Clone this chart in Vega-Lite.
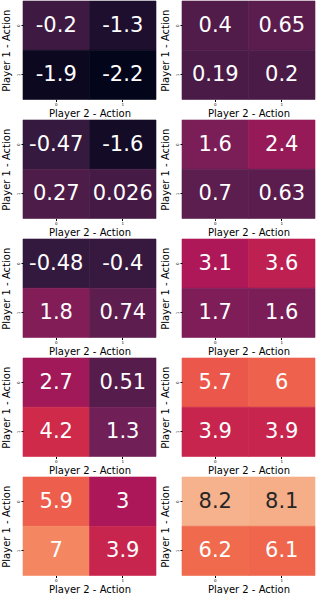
{
  "$schema": "https://vega.github.io/schema/vega-lite/v6.json",
  "padding": {"left": 1, "top": 0, "right": 0, "bottom": 0},
  "background": "white",
  "data": {"values": [
    {"panel": 1, "p1": 0, "p2": 0, "value": -0.2},
    {"panel": 1, "p1": 0, "p2": 1, "value": -1.3},
    {"panel": 1, "p1": 1, "p2": 0, "value": -1.9},
    {"panel": 1, "p1": 1, "p2": 1, "value": -2.2},
    {"panel": 2, "p1": 0, "p2": 0, "value": 0.4},
    {"panel": 2, "p1": 0, "p2": 1, "value": 0.65},
    {"panel": 2, "p1": 1, "p2": 0, "value": 0.19},
    {"panel": 2, "p1": 1, "p2": 1, "value": 0.2},
    {"panel": 3, "p1": 0, "p2": 0, "value": -0.47},
    {"panel": 3, "p1": 0, "p2": 1, "value": -1.6},
    {"panel": 3, "p1": 1, "p2": 0, "value": 0.27},
    {"panel": 3, "p1": 1, "p2": 1, "value": 0.026},
    {"panel": 4, "p1": 0, "p2": 0, "value": 1.6},
    {"panel": 4, "p1": 0, "p2": 1, "value": 2.4},
    {"panel": 4, "p1": 1, "p2": 0, "value": 0.7},
    {"panel": 4, "p1": 1, "p2": 1, "value": 0.63},
    {"panel": 5, "p1": 0, "p2": 0, "value": -0.48},
    {"panel": 5, "p1": 0, "p2": 1, "value": -0.4},
    {"panel": 5, "p1": 1, "p2": 0, "value": 1.8},
    {"panel": 5, "p1": 1, "p2": 1, "value": 0.74},
    {"panel": 6, "p1": 0, "p2": 0, "value": 3.1},
    {"panel": 6, "p1": 0, "p2": 1, "value": 3.6},
    {"panel": 6, "p1": 1, "p2": 0, "value": 1.7},
    {"panel": 6, "p1": 1, "p2": 1, "value": 1.6},
    {"panel": 7, "p1": 0, "p2": 0, "value": 2.7},
    {"panel": 7, "p1": 0, "p2": 1, "value": 0.51},
    {"panel": 7, "p1": 1, "p2": 0, "value": 4.2},
    {"panel": 7, "p1": 1, "p2": 1, "value": 1.3},
    {"panel": 8, "p1": 0, "p2": 0, "value": 5.7},
    {"panel": 8, "p1": 0, "p2": 1, "value": 6},
    {"panel": 8, "p1": 1, "p2": 0, "value": 3.9},
    {"panel": 8, "p1": 1, "p2": 1, "value": 3.9},
    {"panel": 9, "p1": 0, "p2": 0, "value": 5.9},
    {"panel": 9, "p1": 0, "p2": 1, "value": 3},
    {"panel": 9, "p1": 1, "p2": 0, "value": 7},
    {"panel": 9, "p1": 1, "p2": 1, "value": 3.9},
    {"panel": 10, "p1": 0, "p2": 0, "value": 8.2},
    {"panel": 10, "p1": 0, "p2": 1, "value": 8.1},
    {"panel": 10, "p1": 1, "p2": 0, "value": 6.2},
    {"panel": 10, "p1": 1, "p2": 1, "value": 6.1}
  ]},
  "columns": 2,
  "spacing": {"row": 0, "column": 3},
  "concat": [
    {"transform": [{"filter": "datum.panel == 1"}], "width": 133, "height": 98.5,
     "encoding": {"x": {"field": "p2", "type": "ordinal", "axis": {"title": "Player 2 - Action"}}, "y": {"field": "p1", "type": "ordinal", "axis": {"title": "Player 1 - Action"}}},
     "layer": [
       {"mark": "rect", "encoding": {"color": {"field": "value", "type": "quantitative", "legend": null, "scale": {"domain": [-2.2, -0.457, 1.286, 3.029, 4.771, 6.514, 8.257, 10.0], "range": ["#03051a", "#35193e", "#701f57", "#ad1759", "#e13342", "#f37651", "#f6b48f", "#faebdd"], "interpolate": "rgb"}}, "stroke": {"field": "value", "type": "quantitative", "legend": null, "scale": {"domain": [-2.2, -0.457, 1.286, 3.029, 4.771, 6.514, 8.257, 10.0], "range": ["#03051a", "#35193e", "#701f57", "#ad1759", "#e13342", "#f37651", "#f6b48f", "#faebdd"], "interpolate": "rgb"}}}},
       {"mark": "text", "encoding": {"text": {"field": "value", "type": "quantitative", "format": ".2~g"}, "color": {"condition": {"test": "datum.value > 7.5", "value": "#262626"}, "value": "#ffffff"}}}
     ]},
    {"transform": [{"filter": "datum.panel == 2"}], "width": 133, "height": 98.5,
     "encoding": {"x": {"field": "p2", "type": "ordinal", "axis": {"title": "Player 2 - Action"}}, "y": {"field": "p1", "type": "ordinal", "axis": {"title": "Player 1 - Action"}}},
     "layer": [
       {"mark": "rect", "encoding": {"color": {"field": "value", "type": "quantitative", "legend": null, "scale": {"domain": [-2.2, -0.457, 1.286, 3.029, 4.771, 6.514, 8.257, 10.0], "range": ["#03051a", "#35193e", "#701f57", "#ad1759", "#e13342", "#f37651", "#f6b48f", "#faebdd"], "interpolate": "rgb"}}, "stroke": {"field": "value", "type": "quantitative", "legend": null, "scale": {"domain": [-2.2, -0.457, 1.286, 3.029, 4.771, 6.514, 8.257, 10.0], "range": ["#03051a", "#35193e", "#701f57", "#ad1759", "#e13342", "#f37651", "#f6b48f", "#faebdd"], "interpolate": "rgb"}}}},
       {"mark": "text", "encoding": {"text": {"field": "value", "type": "quantitative", "format": ".2~g"}, "color": {"condition": {"test": "datum.value > 7.5", "value": "#262626"}, "value": "#ffffff"}}}
     ]},
    {"transform": [{"filter": "datum.panel == 3"}], "width": 133, "height": 98.5,
     "encoding": {"x": {"field": "p2", "type": "ordinal", "axis": {"title": "Player 2 - Action"}}, "y": {"field": "p1", "type": "ordinal", "axis": {"title": "Player 1 - Action"}}},
     "layer": [
       {"mark": "rect", "encoding": {"color": {"field": "value", "type": "quantitative", "legend": null, "scale": {"domain": [-2.2, -0.457, 1.286, 3.029, 4.771, 6.514, 8.257, 10.0], "range": ["#03051a", "#35193e", "#701f57", "#ad1759", "#e13342", "#f37651", "#f6b48f", "#faebdd"], "interpolate": "rgb"}}, "stroke": {"field": "value", "type": "quantitative", "legend": null, "scale": {"domain": [-2.2, -0.457, 1.286, 3.029, 4.771, 6.514, 8.257, 10.0], "range": ["#03051a", "#35193e", "#701f57", "#ad1759", "#e13342", "#f37651", "#f6b48f", "#faebdd"], "interpolate": "rgb"}}}},
       {"mark": "text", "encoding": {"text": {"field": "value", "type": "quantitative", "format": ".2~g"}, "color": {"condition": {"test": "datum.value > 7.5", "value": "#262626"}, "value": "#ffffff"}}}
     ]},
    {"transform": [{"filter": "datum.panel == 4"}], "width": 133, "height": 98.5,
     "encoding": {"x": {"field": "p2", "type": "ordinal", "axis": {"title": "Player 2 - Action"}}, "y": {"field": "p1", "type": "ordinal", "axis": {"title": "Player 1 - Action"}}},
     "layer": [
       {"mark": "rect", "encoding": {"color": {"field": "value", "type": "quantitative", "legend": null, "scale": {"domain": [-2.2, -0.457, 1.286, 3.029, 4.771, 6.514, 8.257, 10.0], "range": ["#03051a", "#35193e", "#701f57", "#ad1759", "#e13342", "#f37651", "#f6b48f", "#faebdd"], "interpolate": "rgb"}}, "stroke": {"field": "value", "type": "quantitative", "legend": null, "scale": {"domain": [-2.2, -0.457, 1.286, 3.029, 4.771, 6.514, 8.257, 10.0], "range": ["#03051a", "#35193e", "#701f57", "#ad1759", "#e13342", "#f37651", "#f6b48f", "#faebdd"], "interpolate": "rgb"}}}},
       {"mark": "text", "encoding": {"text": {"field": "value", "type": "quantitative", "format": ".2~g"}, "color": {"condition": {"test": "datum.value > 7.5", "value": "#262626"}, "value": "#ffffff"}}}
     ]},
    {"transform": [{"filter": "datum.panel == 5"}], "width": 133, "height": 98.5,
     "encoding": {"x": {"field": "p2", "type": "ordinal", "axis": {"title": "Player 2 - Action"}}, "y": {"field": "p1", "type": "ordinal", "axis": {"title": "Player 1 - Action"}}},
     "layer": [
       {"mark": "rect", "encoding": {"color": {"field": "value", "type": "quantitative", "legend": null, "scale": {"domain": [-2.2, -0.457, 1.286, 3.029, 4.771, 6.514, 8.257, 10.0], "range": ["#03051a", "#35193e", "#701f57", "#ad1759", "#e13342", "#f37651", "#f6b48f", "#faebdd"], "interpolate": "rgb"}}, "stroke": {"field": "value", "type": "quantitative", "legend": null, "scale": {"domain": [-2.2, -0.457, 1.286, 3.029, 4.771, 6.514, 8.257, 10.0], "range": ["#03051a", "#35193e", "#701f57", "#ad1759", "#e13342", "#f37651", "#f6b48f", "#faebdd"], "interpolate": "rgb"}}}},
       {"mark": "text", "encoding": {"text": {"field": "value", "type": "quantitative", "format": ".2~g"}, "color": {"condition": {"test": "datum.value > 7.5", "value": "#262626"}, "value": "#ffffff"}}}
     ]},
    {"transform": [{"filter": "datum.panel == 6"}], "width": 133, "height": 98.5,
     "encoding": {"x": {"field": "p2", "type": "ordinal", "axis": {"title": "Player 2 - Action"}}, "y": {"field": "p1", "type": "ordinal", "axis": {"title": "Player 1 - Action"}}},
     "layer": [
       {"mark": "rect", "encoding": {"color": {"field": "value", "type": "quantitative", "legend": null, "scale": {"domain": [-2.2, -0.457, 1.286, 3.029, 4.771, 6.514, 8.257, 10.0], "range": ["#03051a", "#35193e", "#701f57", "#ad1759", "#e13342", "#f37651", "#f6b48f", "#faebdd"], "interpolate": "rgb"}}, "stroke": {"field": "value", "type": "quantitative", "legend": null, "scale": {"domain": [-2.2, -0.457, 1.286, 3.029, 4.771, 6.514, 8.257, 10.0], "range": ["#03051a", "#35193e", "#701f57", "#ad1759", "#e13342", "#f37651", "#f6b48f", "#faebdd"], "interpolate": "rgb"}}}},
       {"mark": "text", "encoding": {"text": {"field": "value", "type": "quantitative", "format": ".2~g"}, "color": {"condition": {"test": "datum.value > 7.5", "value": "#262626"}, "value": "#ffffff"}}}
     ]},
    {"transform": [{"filter": "datum.panel == 7"}], "width": 133, "height": 98.5,
     "encoding": {"x": {"field": "p2", "type": "ordinal", "axis": {"title": "Player 2 - Action"}}, "y": {"field": "p1", "type": "ordinal", "axis": {"title": "Player 1 - Action"}}},
     "layer": [
       {"mark": "rect", "encoding": {"color": {"field": "value", "type": "quantitative", "legend": null, "scale": {"domain": [-2.2, -0.457, 1.286, 3.029, 4.771, 6.514, 8.257, 10.0], "range": ["#03051a", "#35193e", "#701f57", "#ad1759", "#e13342", "#f37651", "#f6b48f", "#faebdd"], "interpolate": "rgb"}}, "stroke": {"field": "value", "type": "quantitative", "legend": null, "scale": {"domain": [-2.2, -0.457, 1.286, 3.029, 4.771, 6.514, 8.257, 10.0], "range": ["#03051a", "#35193e", "#701f57", "#ad1759", "#e13342", "#f37651", "#f6b48f", "#faebdd"], "interpolate": "rgb"}}}},
       {"mark": "text", "encoding": {"text": {"field": "value", "type": "quantitative", "format": ".2~g"}, "color": {"condition": {"test": "datum.value > 7.5", "value": "#262626"}, "value": "#ffffff"}}}
     ]},
    {"transform": [{"filter": "datum.panel == 8"}], "width": 133, "height": 98.5,
     "encoding": {"x": {"field": "p2", "type": "ordinal", "axis": {"title": "Player 2 - Action"}}, "y": {"field": "p1", "type": "ordinal", "axis": {"title": "Player 1 - Action"}}},
     "layer": [
       {"mark": "rect", "encoding": {"color": {"field": "value", "type": "quantitative", "legend": null, "scale": {"domain": [-2.2, -0.457, 1.286, 3.029, 4.771, 6.514, 8.257, 10.0], "range": ["#03051a", "#35193e", "#701f57", "#ad1759", "#e13342", "#f37651", "#f6b48f", "#faebdd"], "interpolate": "rgb"}}, "stroke": {"field": "value", "type": "quantitative", "legend": null, "scale": {"domain": [-2.2, -0.457, 1.286, 3.029, 4.771, 6.514, 8.257, 10.0], "range": ["#03051a", "#35193e", "#701f57", "#ad1759", "#e13342", "#f37651", "#f6b48f", "#faebdd"], "interpolate": "rgb"}}}},
       {"mark": "text", "encoding": {"text": {"field": "value", "type": "quantitative", "format": ".2~g"}, "color": {"condition": {"test": "datum.value > 7.5", "value": "#262626"}, "value": "#ffffff"}}}
     ]},
    {"transform": [{"filter": "datum.panel == 9"}], "width": 133, "height": 98.5,
     "encoding": {"x": {"field": "p2", "type": "ordinal", "axis": {"title": "Player 2 - Action"}}, "y": {"field": "p1", "type": "ordinal", "axis": {"title": "Player 1 - Action"}}},
     "layer": [
       {"mark": "rect", "encoding": {"color": {"field": "value", "type": "quantitative", "legend": null, "scale": {"domain": [-2.2, -0.457, 1.286, 3.029, 4.771, 6.514, 8.257, 10.0], "range": ["#03051a", "#35193e", "#701f57", "#ad1759", "#e13342", "#f37651", "#f6b48f", "#faebdd"], "interpolate": "rgb"}}, "stroke": {"field": "value", "type": "quantitative", "legend": null, "scale": {"domain": [-2.2, -0.457, 1.286, 3.029, 4.771, 6.514, 8.257, 10.0], "range": ["#03051a", "#35193e", "#701f57", "#ad1759", "#e13342", "#f37651", "#f6b48f", "#faebdd"], "interpolate": "rgb"}}}},
       {"mark": "text", "encoding": {"text": {"field": "value", "type": "quantitative", "format": ".2~g"}, "color": {"condition": {"test": "datum.value > 7.5", "value": "#262626"}, "value": "#ffffff"}}}
     ]},
    {"transform": [{"filter": "datum.panel == 10"}], "width": 133, "height": 98.5,
     "encoding": {"x": {"field": "p2", "type": "ordinal", "axis": {"title": "Player 2 - Action"}}, "y": {"field": "p1", "type": "ordinal", "axis": {"title": "Player 1 - Action"}}},
     "layer": [
       {"mark": "rect", "encoding": {"color": {"field": "value", "type": "quantitative", "legend": null, "scale": {"domain": [-2.2, -0.457, 1.286, 3.029, 4.771, 6.514, 8.257, 10.0], "range": ["#03051a", "#35193e", "#701f57", "#ad1759", "#e13342", "#f37651", "#f6b48f", "#faebdd"], "interpolate": "rgb"}}, "stroke": {"field": "value", "type": "quantitative", "legend": null, "scale": {"domain": [-2.2, -0.457, 1.286, 3.029, 4.771, 6.514, 8.257, 10.0], "range": ["#03051a", "#35193e", "#701f57", "#ad1759", "#e13342", "#f37651", "#f6b48f", "#faebdd"], "interpolate": "rgb"}}}},
       {"mark": "text", "encoding": {"text": {"field": "value", "type": "quantitative", "format": ".2~g"}, "color": {"condition": {"test": "datum.value > 7.5", "value": "#262626"}, "value": "#ffffff"}}}
     ]}
  ],
  "config": {
    "locale": {"number": {"decimal": ".", "thousands": ",", "grouping": [3], "currency": ["$", ""], "minus": "-"}},
    "view": {"stroke": null},
    "scale": {"bandPaddingInner": 0, "bandPaddingOuter": 0},
    "rect": {"strokeWidth": 0.6},
    "text": {"font": "DejaVu Sans", "fontSize": 21, "baseline": "middle", "align": "center"},
    "axis": {
      "domain": false, "grid": false,
      "labelFont": "DejaVu Sans", "titleFont": "DejaVu Sans",
      "titleFontWeight": "normal", "titleFontSize": 10, "labelFontSize": 4,
      "tickSize": 2, "labelPadding": 1, "titlePadding": 1.75,
      "titleColor": "#000000", "labelColor": "#000000", "tickColor": "#000000"
    },
    "axisX": {"labelAngle": 0},
    "axisY": {"labelAngle": -90, "titlePadding": 5}
  }
}
